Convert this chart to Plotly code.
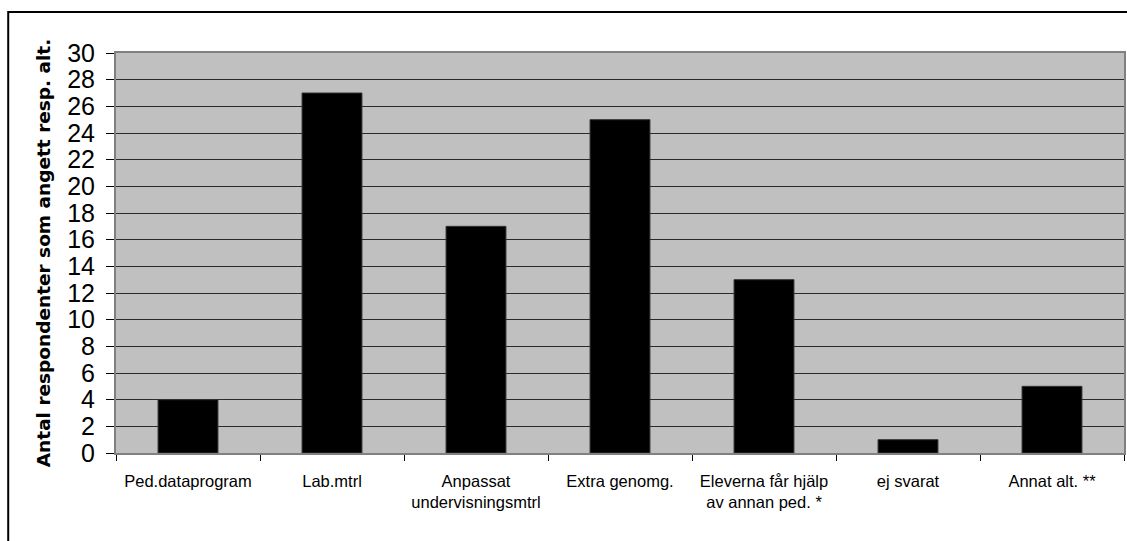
import plotly.graph_objects as go

categories = [
    "Ped.dataprogram",
    "Lab.mtrl",
    "Anpassat<br>undervisningsmtrl",
    "Extra genomg.",
    "Eleverna får hjälp<br>av annan ped. *",
    "ej svarat",
    "Annat alt. **",
]
counts = [4, 27, 17, 25, 13, 1, 5]
y_ticks = list(range(0, 31, 2))

W, H = 1127, 541
L, R, T, B = 116, 1, 53, 88
pw, ph = W - L - R, H - T - B

fig = go.Figure(
    go.Bar(
        x=categories,
        y=counts,
        marker=dict(color="#000000", line=dict(color="#333333", width=1)),
        hoverinfo="x+y",
    )
)

# outer chart frame (runs past the right and bottom edges of the page)
fig.add_shape(
    type="rect", xref="paper", yref="paper",
    x0=(8 - L) / pw, x1=(W + 10 - L) / pw,
    y0=-(H + 10 - (T + ph)) / ph, y1=1 + (T - 12) / ph,
    line=dict(color="#000000", width=2), fillcolor="rgba(0,0,0,0)",
    layer="below",
)

fig.update_layout(
    width=W, height=H,
    margin=dict(l=L, r=R, t=T, b=B, pad=0),
    paper_bgcolor="#FFFFFF",
    plot_bgcolor="#C0C0C0",
    bargap=0.584,
    showlegend=False,
    font=dict(family="Liberation Sans, Arial, sans-serif", color="#000000"),
    xaxis=dict(
        type="category",
        tickson="boundaries",
        ticks="outside", ticklen=6, tickcolor="#000000", tickwidth=1,
        showline=True, linecolor="#808080", linewidth=2, mirror=True,
        showgrid=False,
        tickfont=dict(size=16.5, family="Liberation Sans, Arial, sans-serif"),
        ticklabelstandoff=12,
        fixedrange=True,
    ),
    yaxis=dict(
        range=[0, 30],
        tickvals=y_ticks,
        ticktext=[str(v) for v in y_ticks],
        ticks="outside", ticklen=8, tickcolor="#000000", tickwidth=1,
        showline=True, linecolor="#808080", linewidth=2, mirror=True,
        showgrid=True, gridcolor="#2a2a2a", gridwidth=1,
        zeroline=False,
        tickfont=dict(size=25, family="Liberation Sans, Arial, sans-serif"),
        ticklabelstandoff=6,
        title=dict(
            text="Antal respondenter som angett resp. alt.",
            font=dict(size=18.5, family="DejaVu Sans, sans-serif", weight="bold"),
            standoff=12,
        ),
        fixedrange=True,
    ),
)

fig.write_html("out.html")
